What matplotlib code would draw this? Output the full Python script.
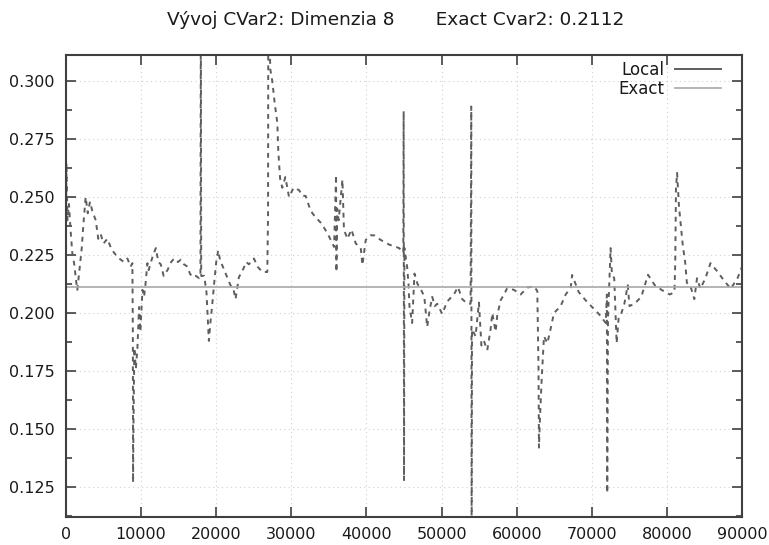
import matplotlib
matplotlib.use('Agg')
import matplotlib.pyplot as plt
from matplotlib.lines import Line2D
from matplotlib.ticker import MultipleLocator

# iteration, local CVar2 estimate
iters = [0, 60, 200, 400, 600, 840, 1100, 1380, 1510, 1960, 2100, 2310, 2620, 2900, 3200,
         3500, 3960, 4300, 4620, 5000, 5510, 6000, 6400, 6900, 7290, 7700, 8180, 8600,
         8840, 8900, 8930, 8980, 9100, 9300, 9510, 9730, 9900, 10180, 10400, 10600, 10840,
         11000, 11500, 11960, 12300, 12620, 13000, 13510, 14000, 14400, 14900, 15290,
         15700, 16180, 16500, 16840, 17300, 17730, 17900, 17950, 18000, 18400, 18700,
         19020, 19200, 19510, 19730, 20000, 20260, 20500, 21060, 21510, 21900, 22310,
         22570, 23020, 23460, 24000, 24350, 25020, 25500, 26130, 26800, 26900, 26930,
         27000, 27200, 27460, 27800, 28130, 28260, 28500, 28800, 29200, 29690, 30300,
         31020, 31500, 31900, 32400, 32800, 33300, 33900, 34500, 35020, 35690, 35950,
         36000, 36100, 36300, 36800, 37000, 37460, 38000, 38570, 39240, 39460, 39900,
         40500, 41020, 41900, 43020, 44350, 44900, 44950, 45000, 45050, 45410, 45600,
         45720, 46080, 46390, 46800, 47280, 47700, 48080, 48400, 48750, 49100, 49420,
         50080, 50750, 51640, 52170, 52750, 53420, 53860, 53950, 54000, 54050, 54520,
         54970, 55300, 55630, 56080, 56520, 56750, 57190, 57410, 57860, 58300, 58750,
         59630, 60520, 61410, 62300, 62740, 62900, 62960, 63100, 63300, 63630, 64080,
         64500, 64960, 65850, 66520, 67190, 67370, 68260, 69170, 70060, 70960, 71860,
         72000, 72050, 72150, 72500, 72670, 72980, 73300, 73570, 73890, 74330, 74780,
         75010, 75680, 76580, 77480, 78380, 79270, 80390, 81000, 81100, 81200, 81350,
         81600, 82110, 82420, 82650, 83100, 83640, 84000, 84450, 85120, 85790, 86690,
         87590, 88490, 89390, 90000]
cvar_local = [0.233, 0.2647, 0.240, 0.247, 0.236, 0.226, 0.221, 0.213, 0.210, 0.224, 0.228,
              0.238, 0.250, 0.243, 0.248, 0.244, 0.240, 0.232, 0.234, 0.230, 0.232, 0.228,
              0.226, 0.224, 0.223, 0.222, 0.2235, 0.220, 0.2215, 0.192, 0.127, 0.150, 0.185,
              0.176, 0.185, 0.2026, 0.192, 0.210, 0.207, 0.213, 0.2215, 0.2185, 0.224, 0.228,
              0.222, 0.221, 0.216, 0.2185, 0.222, 0.2235, 0.222, 0.223, 0.221, 0.220, 0.217,
              0.2155, 0.216, 0.215, 0.216, 0.33, 0.216, 0.216, 0.209, 0.188, 0.195, 0.205,
              0.213, 0.222, 0.227, 0.223, 0.2185, 0.215, 0.212, 0.210,
              0.206, 0.2155, 0.218, 0.222, 0.221, 0.2235, 0.220, 0.2177, 0.2177, 0.243, 0.33,
              0.33, 0.305, 0.300, 0.290, 0.282, 0.270, 0.258, 0.254, 0.2586, 0.250, 0.254,
              0.253, 0.2505, 0.2505, 0.2457, 0.243, 0.241, 0.239, 0.236, 0.233, 0.2285, 0.2595,
              0.2177, 0.245, 0.240, 0.2575, 0.236, 0.232, 0.236, 0.230, 0.228, 0.2207, 0.2315,
              0.2335, 0.2335, 0.2315, 0.2295, 0.228, 0.226, 0.287, 0.128, 0.228, 0.220, 0.2125,
              0.203, 0.1957, 0.217, 0.2125, 0.210, 0.207, 0.194, 0.201, 0.207, 0.203, 0.204,
              0.1996, 0.205, 0.208, 0.2112, 0.206, 0.204, 0.204, 0.289, 0.100, 0.193, 0.190,
              0.2045, 0.186, 0.188, 0.184, 0.193, 0.200, 0.192, 0.199, 0.2055, 0.208, 0.2108,
              0.210, 0.208, 0.211, 0.2115, 0.2095, 0.176, 0.142, 0.155, 0.170, 0.190, 0.187,
              0.193, 0.200, 0.203, 0.208, 0.211, 0.2164, 0.209, 0.2055, 0.2025, 0.1995, 0.1957,
              0.208, 0.1224, 0.198, 0.228, 0.217, 0.215, 0.187, 0.198, 0.1995, 0.204, 0.212,
              0.203, 0.204, 0.207, 0.2165, 0.212, 0.210, 0.208, 0.209, 0.2215, 0.2539, 0.2604,
              0.246, 0.229, 0.222, 0.213, 0.212, 0.206, 0.215, 0.2105, 0.215, 0.2215, 0.218,
              0.214, 0.2105, 0.215, 0.220]
exact_cvar = 0.2112

local_col = '#5e5e5e'
exact_col = '#a8a8a8'

fig = plt.figure(figsize=(7.69, 5.45), dpi=100)
ax = fig.add_axes([0.0858, 0.0514, 0.8792, 0.8476])

ax.plot(iters, cvar_local, color=local_col, lw=1.4, dashes=(2.5, 2.5))
ax.axhline(exact_cvar, color=exact_col, lw=1.2)

ax.set_xlim(0, 90000)
ax.set_ylim(0.1121, 0.3112)
ax.xaxis.set_major_locator(MultipleLocator(10000))
ax.yaxis.set_major_locator(MultipleLocator(0.025))
ax.yaxis.set_minor_locator(MultipleLocator(0.0125))
ax.yaxis.set_major_formatter(plt.FormatStrFormatter('%.3f'))

ax.tick_params(which='both', direction='in', top=True, right=True, colors='#404040',
               labelcolor='#1a1a1a', labelsize=11.5)
ax.tick_params(which='major', length=7, width=1.2)
ax.tick_params(which='minor', length=4, width=1.2)
ax.tick_params(axis='x', pad=7)
ax.tick_params(axis='y', pad=8)
for s in ax.spines.values():
    s.set_color('#404040')
    s.set_linewidth(1.5)

ax.grid(True, which='major', color='#d0d0d0', linestyle=(0, (1, 3)), lw=0.8)

handles = [Line2D([], [], color=local_col, lw=1.4), Line2D([], [], color=exact_col, lw=1.2)]
leg = ax.legend(handles, ['Local', 'Exact'], loc='upper right', bbox_to_anchor=(0.972, 0.99),
                frameon=False, markerfirst=False, fontsize=12, handlelength=2.8,
                borderaxespad=0.0, borderpad=0.1, labelspacing=0.05, handletextpad=0.6)
for t in leg.get_texts():
    t.set_color('#1a1a1a')

fig.suptitle('Vývoj CVar2: Dimenzia 8       Exact Cvar2: 0.2112', x=0.515, y=0.98,
             fontsize=13.3, color='#1a1a1a')

plt.savefig('out.png', dpi=100)
